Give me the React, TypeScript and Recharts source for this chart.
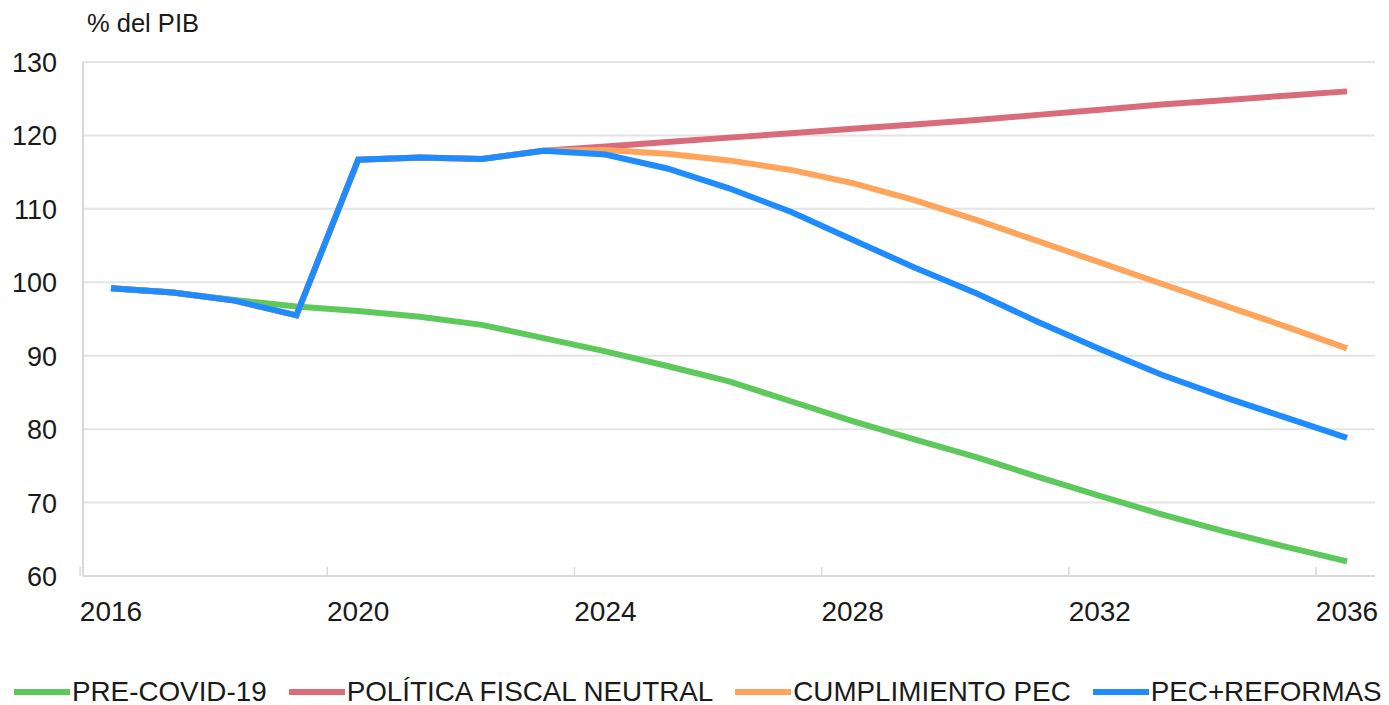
import React from 'react';
import { LineChart, Line, XAxis, YAxis, CartesianGrid } from 'recharts';

// Deuda pública, % del PIB — escenarios 2016-2036
const YEARS = [2016, 2017, 2018, 2019, 2020, 2021, 2022, 2023, 2024, 2025, 2026, 2027, 2028, 2029, 2030, 2031, 2032, 2033, 2034, 2035, 2036];

const PRE_COVID = [99.2, 98.6, 97.6, 96.7, 96.1, 95.3, 94.2, 92.4, 90.6, 88.6, 86.5, 83.8, 81.1, 78.6, 76.2, 73.5, 70.9, 68.4, 66.1, 64.0, 62.0];
const NEUTRAL = [99.2, 98.6, 97.5, 95.5, 116.7, 117.0, 116.8, 117.9, 118.5, 119.1, 119.7, 120.3, 120.9, 121.5, 122.1, 122.8, 123.5, 124.2, 124.8, 125.4, 126.0];
const PEC = [99.2, 98.6, 97.5, 95.5, 116.7, 117.0, 116.8, 117.9, 118.0, 117.5, 116.6, 115.3, 113.5, 111.2, 108.5, 105.6, 102.7, 99.8, 96.9, 94.0, 91.0];
const PEC_REFORMAS = [99.2, 98.6, 97.5, 95.5, 116.7, 117.0, 116.8, 117.9, 117.4, 115.5, 112.8, 109.6, 105.8, 102.0, 98.5, 94.6, 90.9, 87.4, 84.4, 81.6, 78.8];

const X_TICKS = [2016, 2020, 2024, 2028, 2032, 2036];
const Y_TICKS = [60, 70, 80, 90, 100, 110, 120, 130];

const SERIES = [
  { key: 'pre', name: 'PRE-COVID-19', color: '#5ec95b' },
  { key: 'neutral', name: 'POLÍTICA FISCAL NEUTRAL', color: '#d96b7a' },
  { key: 'pec', name: 'CUMPLIMIENTO PEC', color: '#ffa45b' },
  { key: 'reformas', name: 'PEC+REFORMAS', color: '#1e8bff' },
];

const data = YEARS.map((year, i) => ({
  year,
  pre: PRE_COVID[i],
  neutral: NEUTRAL[i],
  pec: PEC[i],
  reformas: PEC_REFORMAS[i],
}));

const FONT = '"Liberation Sans", Arial, sans-serif';
const TEXT = '#1a1a1a';
const BORDER = '#d9d9d9';
const X_DOMAIN: [number, number] = [2015.547, 2036.453];
const PLOT_W = 1292;
const HALF = (PLOT_W / (X_DOMAIN[1] - X_DOMAIN[0])) / 2;

const XTick = ({ x, y, payload }: any) => (
  <g>
    <line x1={x - HALF} x2={x - HALF} y1={y} y2={y - 9} stroke={BORDER} strokeWidth={1.5} />
    <text x={x} y={y + 45} textAnchor="middle" fontSize={28} fontFamily={FONT} fill={TEXT}>
      {payload.value}
    </text>
  </g>
);

const YTick = ({ x, y, payload }: any) => (
  <text x={x - 26} y={y + 10} textAnchor="end" fontSize={27} fontFamily={FONT} fill={TEXT}>
    {payload.value}
  </text>
);

const ChartLegend = () => (
  <div
    style={{
      position: 'absolute',
      left: 14,
      top: 680,
      height: 24,
      display: 'flex',
      alignItems: 'center',
      fontFamily: FONT,
      fontSize: 27.8,
      lineHeight: '24px',
      color: TEXT,
      whiteSpace: 'nowrap',
    }}
  >
    {SERIES.map((s) => (
      <div key={s.key} style={{ display: 'flex', alignItems: 'center', marginRight: 22 }}>
        <span style={{ display: 'inline-block', width: 56, height: 6, background: s.color, marginRight: 2 }} />
        <span>{s.name}</span>
      </div>
    ))}
  </div>
);

export default function App() {
  return (
    <div style={{ position: 'absolute', left: 0, top: 0, width: 1389, height: 705, background: '#fff' }}>
      <div style={{ position: 'absolute', left: 87, top: 9, fontFamily: FONT, fontSize: 25.5, color: TEXT }}>
        % del PIB
      </div>
      <LineChart
        width={1389}
        height={676}
        data={data}
        margin={{ top: 62, right: 14, bottom: 0, left: 0 }}
      >
        <CartesianGrid vertical={false} stroke="#e4e4e4" strokeWidth={2} />
        <XAxis
          dataKey="year"
          type="number"
          domain={X_DOMAIN}
          ticks={X_TICKS}
          tick={<XTick />}
          tickLine={false}
          tickSize={0}
          tickMargin={0}
          axisLine={{ stroke: BORDER, strokeWidth: 2 }}
          height={100}
        />
        <YAxis
          domain={[60, 130]}
          ticks={Y_TICKS}
          tick={<YTick />}
          tickLine={false}
          tickSize={0}
          tickMargin={0}
          axisLine={{ stroke: BORDER, strokeWidth: 2 }}
          width={83}
        />
        <YAxis
          yAxisId="r"
          orientation="right"
          domain={[60, 130]}
          ticks={Y_TICKS}
          tick={false}
          tickLine={false}
          axisLine={{ stroke: BORDER, strokeWidth: 2 }}
          width={0}
        />
        {SERIES.map((s) => (
          <Line
            key={s.key}
            type="linear"
            dataKey={s.key}
            name={s.name}
            stroke={s.color}
            strokeWidth={6}
            dot={false}
            activeDot={false}
            isAnimationActive={false}
          />
        ))}
      </LineChart>
      <ChartLegend />
    </div>
  );
}
